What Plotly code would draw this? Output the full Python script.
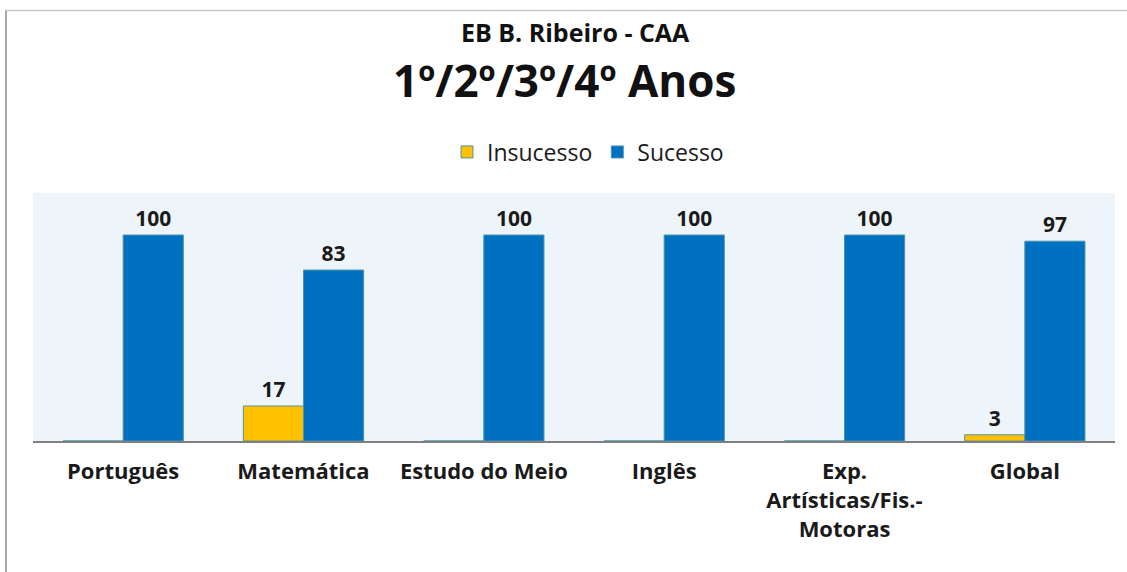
import plotly.graph_objects as go

categories = ["Português", "Matemática", "Estudo do Meio", "Inglês",
              "Exp.<br>Artísticas/Fis.-<br>Motoras", "Global"]
insucesso = [0, 17, 0, 0, 0, 3]
sucesso = [100, 83, 100, 100, 100, 97]

W, H = 1127, 572
L, R, T, B = 33, 12, 193, 131
pw, ph = W - L - R, H - T - B

def px_x(x):
    return (x - L) / pw

def px_y(y):
    return (H - B - y) / ph

font = "Open Sans, sans-serif"
txt = "#1a1a1a"

fig = go.Figure()
fig.add_trace(go.Bar(
    name="Insucesso", x=categories, y=insucesso,
    marker=dict(color="#FFC000", line=dict(color="#4F93A8", width=1)),
    text=[str(v) if v else "" for v in insucesso], textposition="outside",
    texttemplate="<b>%{text}</b>",
    textfont=dict(family=font, size=21, color=txt),
    cliponaxis=False,
))
fig.add_trace(go.Bar(
    name="Sucesso", x=categories, y=sucesso,
    marker=dict(color="#0070C0", line=dict(color="#4F93A8", width=1)),
    text=[str(v) for v in sucesso], textposition="outside",
    texttemplate="<b>%{text}</b>",
    textfont=dict(family=font, size=21, color=txt),
    cliponaxis=False,
))

ticktext = ["<b>" + c.replace("<br>", "</b><br><b>") + "</b>" for c in categories]

fig.update_layout(
    width=W, height=H,
    margin=dict(l=L, r=R, t=T, b=B),
    paper_bgcolor="white",
    plot_bgcolor="#EEF5FA",
    barmode="group",
    bargap=0.333,
    bargroupgap=0,
    font=dict(family=font, color=txt),
    showlegend=True,
    legend=dict(orientation="h", x=px_x(588), y=px_y(152), xanchor="center",
                yanchor="middle", font=dict(family=font, size=23, color=txt),
                itemwidth=30, bgcolor="rgba(0,0,0,0)"),
    xaxis=dict(showline=True, linecolor="#7F7F7F", linewidth=2, ticks="",
               tickvals=categories, ticktext=ticktext, ticklabelstandoff=10,
               tickfont=dict(family=font, size=22, color=txt),
               showgrid=False, fixedrange=True),
    yaxis=dict(range=[0, 120.4], visible=False, showgrid=False, fixedrange=True),
)

fig.add_annotation(text="<b>EB B. Ribeiro - CAA</b>", x=px_x(575), y=px_y(32),
                   xref="paper", yref="paper", showarrow=False, xanchor="center",
                   yanchor="middle", font=dict(family=font, size=25, color="#111111"))
fig.add_annotation(text="<b>1º/2º/3º/4º Anos</b>", x=px_x(564), y=px_y(80),
                   xref="paper", yref="paper", showarrow=False, xanchor="center",
                   yanchor="middle", font=dict(family=font, size=44, color="#111111"))

# frame border lines
fig.add_shape(type="line", xref="paper", yref="paper",
              x0=px_x(6), x1=px_x(6), y0=px_y(10), y1=px_y(H + 5),
              line=dict(color="#AAAAAA", width=2))
fig.add_shape(type="line", xref="paper", yref="paper",
              x0=px_x(6), x1=px_x(W + 5), y0=px_y(10.5), y1=px_y(10.5),
              line=dict(color="#C8C8C8", width=1.5))

fig.write_html("out.html", config={"displayModeBar": False},
               post_script="document.body.style.margin='0';")
